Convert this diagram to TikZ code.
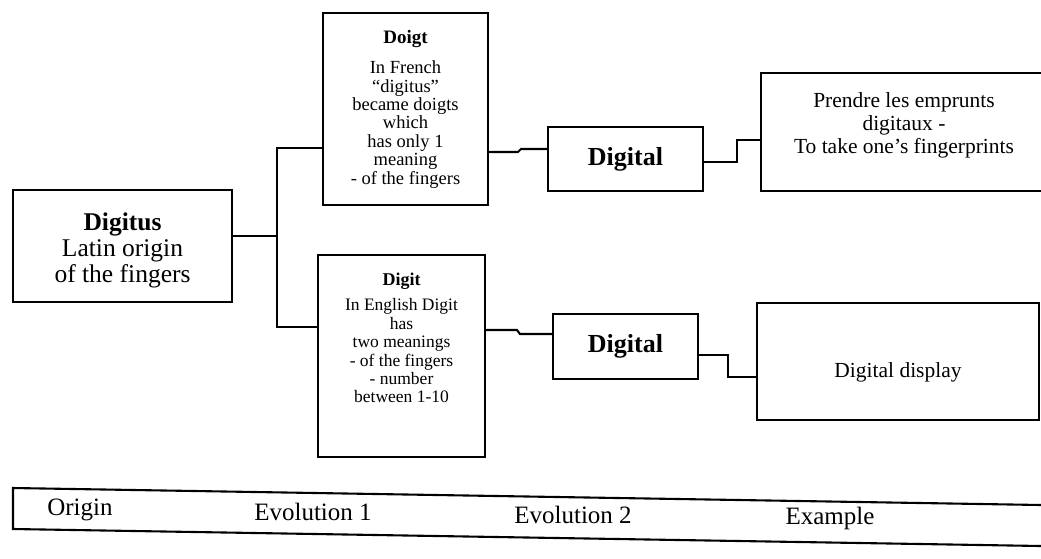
\documentclass[tikz,border=0pt]{standalone}
\usepackage{fontspec}
\setmainfont{Liberation Serif}
\begin{document}
\begin{tikzpicture}[x=1pt,y=-1pt,
  line width=2.1pt,
  frame/.style={draw,rectangle,inner sep=0pt},
  plain/.style={inner sep=0pt,align=center},
  bigtxt/.style={plain,font=\fontsize{25.5}{26}\selectfont},
  frenchtxt/.style={plain,font=\fontsize{18.5}{18.4}\selectfont},
  englishtxt/.style={plain,font=\fontsize{17.5}{18.4}\selectfont},
  exampletxt/.style={plain,font=\fontsize{21.5}{23}\selectfont},
  digitaltxt/.style={plain,font=\fontsize{26}{26}\selectfont\bfseries},
  bartxt/.style={plain,font=\fontsize{25}{26}\selectfont},
  link/.style={line width=2.1pt}]
\useasboundingbox (0,0) rectangle (1041,558);

% origin
\node[frame,minimum width=219pt,minimum height=112pt] (digitus) at (122.5,246) {};
\node[bigtxt] (digitustxt) at (122.5,250) {\textbf{Digitus}\\Latin origin\\of the fingers};

% first evolution: French and English
\node[frame,minimum width=165pt,minimum height=192pt] (doigt) at (405.5,109) {};
\node[frenchtxt,anchor=north] (doigttxt) at (405.5,29)
  {{\fontsize{19}{19}\selectfont\bfseries Doigt}\\[12pt]In French\\``digitus''\\became doigts\\which\\has only 1\\meaning\\- of the fingers};
\node[frame,minimum width=167pt,minimum height=202pt] (digit) at (401.5,356) {};
\node[englishtxt,anchor=north] (digittxt) at (401.5,272)
  {{\fontsize{18}{18}\selectfont\bfseries Digit}\\[7pt]In English Digit\\has\\two meanings\\- of the fingers\\- number\\between 1-10};

% second evolution
\node[frame,minimum width=155pt,minimum height=64pt,digitaltxt] (digital1) at (625.5,159) {Digital};
\node[frame,minimum width=145pt,minimum height=65pt,digitaltxt] (digital2) at (625.5,346.5) {Digital};

% examples
\node[minimum width=279pt,minimum height=116pt,inner sep=0pt] (ex1) at (901.5,132) {};
\draw (ex1.north east) -- (ex1.north west) -- (ex1.south west) -- (ex1.south east);
\node[exampletxt] (ex1txt) at (904,125) {Prendre les emprunts\\digitaux -\\To take one's fingerprints};
\node[frame,minimum width=282pt,minimum height=117pt] (ex2) at (898,361.5) {};
\node[exampletxt] (ex2txt) at (898,372) {Digital display};

% connectors
\coordinate (j0) at (277,236);
\coordinate (j1) at (277,148);
\coordinate (j2) at (277,327);
\draw[link] (digitus.east |- j0) -- (j0);
\draw[link] (doigt.west |- j1) -- (j1) -- (j2) -- (digit.west |- j2);

\coordinate (k1) at (518,152);
\coordinate (k2) at (521,149);
\draw[link] (doigt.east |- k1) -- (k1) -- (k2) -- (digital1.west |- k2);
\coordinate (k3) at (517,330);
\coordinate (k4) at (520,334);
\draw[link] (digit.east |- k3) -- (k3) -- (k4) -- (digital2.west |- k4);

\coordinate (m1) at (737,162);
\coordinate (m2) at (737,140);
\draw[link] (digital1.east |- m1) -- (m1) -- (m2) -- (ex1.west |- m2);
\coordinate (m3) at (728,355);
\coordinate (m4) at (728,377);
\draw[link] (digital2.east |- m3) -- (m3) -- (m4) -- (ex2.west |- m4);

% stage bar
\coordinate (bar1) at (1041,505);
\coordinate (bar2) at (13,488);
\coordinate (bar3) at (13,529);
\coordinate (bar4) at (1041,546);
\draw (bar1) -- (bar2) -- (bar3) -- (bar4);
\node[bartxt] (origin) at (80,510) {Origin};
\node[bartxt] (evo1) at (313,512) {Evolution 1};
\node[bartxt] (evo2) at (573,515) {Evolution 2};
\node[bartxt] (example) at (830,518) {Example};
\end{tikzpicture}
\end{document}
